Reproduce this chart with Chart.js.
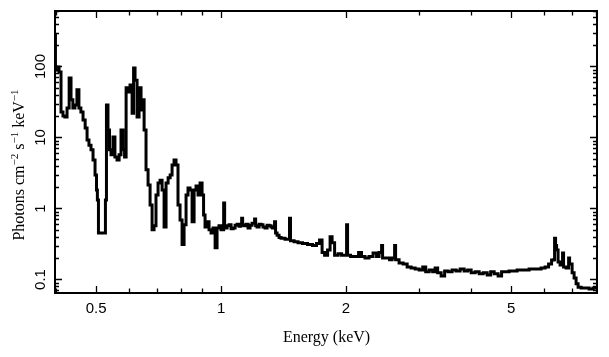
<!DOCTYPE html>
<html>
<head>
<meta charset="utf-8">
<script src="https://cdn.jsdelivr.net/npm/chart.js@4/dist/chart.umd.min.js"></script>
<style>
html,body{margin:0;padding:0;background:#fff;}
#wrap{width:609px;height:357px;}
</style>
</head>
<body>
<div id="wrap"><canvas id="c" width="609" height="357"></canvas></div>
<script>
// Energy bins (keV)
const energy = [0.398,0.400,0.405,0.409,0.414,0.418,0.423,0.428,0.433,0.437,0.442,0.447,0.452,0.457,0.462,0.468,0.473,0.478,0.483,0.489,0.494,0.500,0.502,0.505,0.508,0.514,0.520,0.525,0.528,0.531,0.537,0.540,0.546,0.552,0.558,0.565,0.571,0.577,0.584,0.587,0.594,0.600,0.607,0.614,0.617,0.624,0.631,0.638,0.645,0.649,0.656,0.663,0.671,0.678,0.686,0.693,0.701,0.709,0.717,0.725,0.733,0.741,0.750,0.758,0.766,0.775,0.783,0.792,0.801,0.810,0.819,0.828,0.837,0.847,0.856,0.866,0.875,0.885,0.895,0.905,0.910,0.920,0.930,0.941,0.951,0.962,0.973,0.983,0.994,
1.006,1.012,1.017,1.023,1.028,1.040,1.051,1.063,1.075,1.087,1.099,1.111,1.118,1.124,1.130,1.142,1.155,1.168,1.181,1.194,1.201,1.208,1.215,1.228,1.242,1.255,1.269,1.284,1.298,1.312,1.327,1.334,1.342,1.349,1.357,1.372,1.387,1.403,1.418,1.434,1.450,1.458,1.466,1.474,1.483,
1.516,1.550,1.593,1.638,1.684,1.712,1.742,1.761,1.791,1.821,1.841,1.862,1.893,1.935,1.968,2.001,2.012,2.023,2.080,2.127,2.162,2.198,2.247,2.298,2.350,2.389,2.416,2.430,2.443,2.457,2.470,2.526,2.568,2.597,2.612,2.626,2.641,2.655,
2.715,2.777,2.839,2.903,2.969,3.036,3.087,3.138,3.208,3.262,3.298,3.353,3.428,3.486,3.563,3.643,3.726,3.809,3.896,3.961,4.049,4.141,4.234,4.329,4.426,4.500,4.601,4.702,4.781,4.889,4.999,5.110,5.225,5.342,5.462,5.585,5.710,5.838,5.969,6.103,6.205,6.309,6.344,6.379,6.415,6.451,6.523,6.595,6.632,6.669,6.706,6.744,6.818,6.858,6.896,6.934,6.973,7.051,7.129,7.209,7.289,7.454,7.620,7.791,7.966,8.054];
// Photon flux (photons cm^-2 s^-1 keV^-1)
const flux = [278,89,98,84,22.9,20.1,19.5,26,69,34,26,28.7,47,26,22.9,17.6,13.6,9.2,7.8,6.7,4.8,2.96,1.82,1.32,0.45,0.45,0.45,0.45,1.32,28.7,12.8,6.7,5.7,10.2,5.3,4.8,5.7,12.8,6.7,5.3,50,43.7,55,22,95,64,19.5,50,24.4,34,12.8,3.5,2.14,1.12,0.50,0.57,1.55,2.29,2.5,1.82,0.55,2.29,2.7,2.96,4.1,4.8,4.1,1.12,0.69,0.31,0.59,1.55,1.94,1.82,0.65,1.82,2.07,1.55,2.29,1.55,0.81,0.55,0.65,0.50,0.45,0.53,0.28,0.53,0.57,
0.50,0.50,1.19,0.53,0.53,0.57,0.59,0.52,0.53,0.58,0.60,0.56,0.60,0.73,0.58,0.57,0.60,0.53,0.58,0.62,0.62,0.71,0.57,0.55,0.60,0.59,0.55,0.53,0.58,0.57,0.55,0.53,0.55,0.65,0.45,0.42,0.39,0.38,0.38,0.37,0.37,0.37,0.73,0.35,0.35,
0.34,0.33,0.32,0.31,0.30,0.32,0.36,0.24,0.22,0.26,0.40,0.33,0.22,0.23,0.22,0.22,0.59,0.22,0.21,0.21,0.24,0.21,0.20,0.21,0.236,0.21,0.24,0.24,0.30,0.20,0.20,0.20,0.19,0.20,0.20,0.30,0.19,0.19,
0.17,0.165,0.15,0.145,0.14,0.136,0.15,0.128,0.136,0.128,0.145,0.124,0.112,0.132,0.128,0.136,0.132,0.14,0.132,0.136,0.124,0.128,0.12,0.124,0.116,0.128,0.12,0.112,0.128,0.128,0.132,0.132,0.136,0.136,0.136,0.14,0.14,0.14,0.145,0.15,0.165,0.188,0.19,0.38,0.30,0.26,0.176,0.16,0.16,0.236,0.15,0.15,0.145,0.145,0.20,0.165,0.165,0.124,0.105,0.087,0.078,0.076,0.076,0.0735,0.076,0.076];
const xTickLabels = [0.5, 1, 2, 5];
const yTickLabels = [0.1, 1, 10, 100];
const xTitle = "Energy (keV)";
const yTitleParts = [["Photons cm",0],["−2",1],[" s",0],["−1",1],[" keV",0],["−1",1]];

const frame = {
  id: 'frame',
  afterDraw(chart) {
    const ctx = chart.ctx, a = chart.chartArea;
    const xs = chart.scales.x, ys = chart.scales.y;
    ctx.save();
    ctx.strokeStyle = '#000';
    ctx.lineWidth = 2;
    ctx.strokeRect(a.left, a.top, a.right - a.left, a.bottom - a.top);
    ctx.lineWidth = 1.3;
    ctx.beginPath();
    const xt = [];
    for (let d = 0.1; d < 100; d *= 10) for (let m = 1; m < 10; m++) xt.push(+(m * d).toPrecision(3));
    xt.forEach(v => {
      if (v < xs.min || v > xs.max) return;
      const p = Math.round(xs.getPixelForValue(v)) + 0.5;
      const L = (v === 1 || v === 2 || v === 0.5 || v === 5) ? 7 : 4.5;
      ctx.moveTo(p, a.bottom); ctx.lineTo(p, a.bottom - L);
      ctx.moveTo(p, a.top); ctx.lineTo(p, a.top + L);
    });
    const yt = [];
    for (let d = 0.01; d < 1000; d *= 10) for (let m = 1; m < 10; m++) yt.push({v: m * d, major: m === 1});
    yt.forEach(t => {
      if (t.v < ys.min || t.v > ys.max) return;
      const p = Math.round(ys.getPixelForValue(t.v)) + 0.5;
      const L = t.major ? 7 : 4;
      ctx.moveTo(a.left, p); ctx.lineTo(a.left + L, p);
      ctx.moveTo(a.right, p); ctx.lineTo(a.right - L, p);
    });
    ctx.stroke();

    ctx.fillStyle = '#000';
    ctx.font = '15px "Liberation Sans", Arial, sans-serif';
    ctx.textAlign = 'center';
    ctx.textBaseline = 'alphabetic';
    xTickLabels.forEach(v => {
      ctx.fillText(String(v), xs.getPixelForValue(v), a.bottom + 20);
    });
    yTickLabels.forEach(v => {
      const p = ys.getPixelForValue(v);
      ctx.save();
      ctx.translate(a.left - 10, p);
      ctx.rotate(-Math.PI / 2);
      ctx.fillText(String(v), 0, 0);
      ctx.restore();
    });
    ctx.font = '16px "Liberation Serif", "Times New Roman", serif';
    ctx.fillText(xTitle, (a.left + a.right) / 2 + 0.5, 342);
    const big = '16px "Liberation Serif", "Times New Roman", serif';
    const small = '11px "Liberation Serif", "Times New Roman", serif';
    let total = 0;
    yTitleParts.forEach(([t, s]) => { ctx.font = s ? small : big; total += ctx.measureText(t).width; });
    ctx.save();
    ctx.translate(23.5, 165);
    ctx.rotate(-Math.PI / 2);
    ctx.textAlign = 'left';
    let pos = -total / 2;
    yTitleParts.forEach(([t, s]) => {
      ctx.font = s ? small : big;
      ctx.fillText(t, pos, s ? -6 : 0);
      pos += ctx.measureText(t).width;
    });
    ctx.restore();
    ctx.restore();
  }
};

new Chart(document.getElementById('c'), {
  type: 'line',
  data: {
    datasets: [{
      data: energy.map((e, i) => ({x: e, y: flux[i]})),
      borderColor: '#000',
      borderWidth: 3,
      pointRadius: 0,
      stepped: 'middle',
      fill: false,
      borderJoinStyle: 'miter'
    }]
  },
  options: {
    responsive: false,
    animation: false,
    events: [],
    layout: {padding: {left: 55, right: 12, top: 11, bottom: 64}},
    plugins: {legend: {display: false}, tooltip: {enabled: false}},
    scales: {
      x: {
        type: 'logarithmic', min: 0.398, max: 8.05,
        grid: {display: false, drawTicks: false}, border: {display: false},
        ticks: {display: false},
        afterFit: s => { s.height = 0; }
      },
      y: {
        type: 'logarithmic', min: 0.0645, max: 605,
        grid: {display: false, drawTicks: false}, border: {display: false},
        ticks: {display: false},
        afterFit: s => { s.width = 0; }
      }
    }
  },
  plugins: [frame]
});
</script>
</body>
</html>
